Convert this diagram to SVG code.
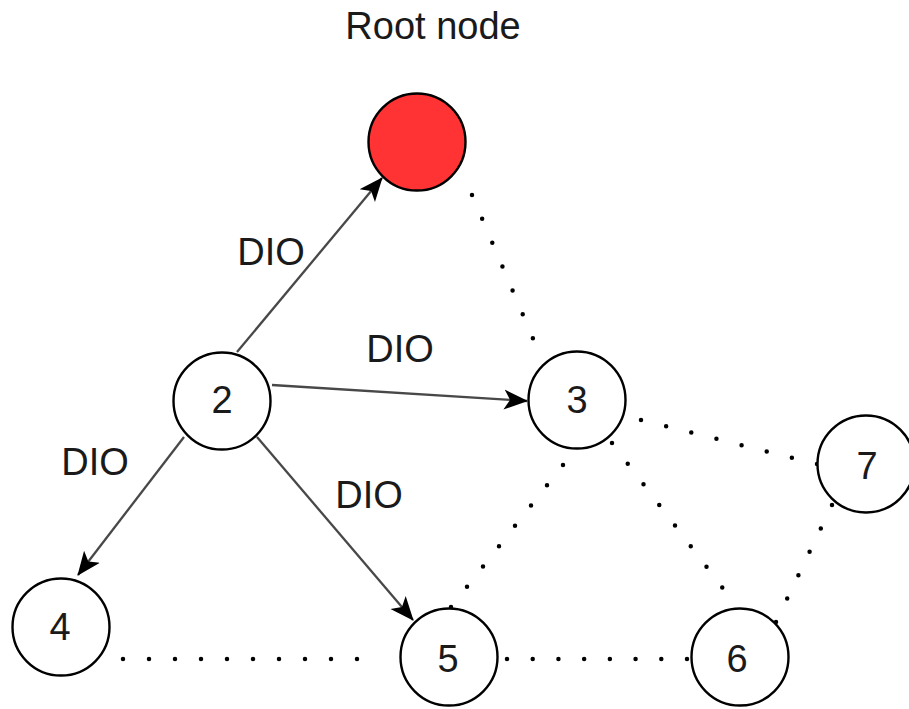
<svg xmlns="http://www.w3.org/2000/svg" width="909" height="709" viewBox="0 0 909 709">
  <style>
    .node { fill: #ffffff; stroke: #000000; stroke-width: 2.4; }
    .root { fill: #ff3333; }
    .lbl { font-family: "Liberation Sans", Arial, sans-serif; font-size: 38px; fill: #1a1a1a; text-anchor: middle; }
    .link { fill: none; stroke: #484848; stroke-width: 2.3; marker-end: url(#arrow); }
    .dots { fill: none; stroke: #000000; stroke-width: 4.5; stroke-linecap: round; stroke-dasharray: 0 1; }
  </style>
  <defs>
    <marker id="arrow" viewBox="0 0 24 22" refX="23" refY="11" markerWidth="24" markerHeight="22" markerUnits="userSpaceOnUse" orient="auto">
      <path d="M0,1 L24,11 L0,21 L6,11 Z" fill="#000000"/>
    </marker>
  </defs>
  <rect width="909" height="709" fill="#ffffff"/>

  <!-- connectors -->
  <g id="edges">
    <!-- DIO messages from node 2 -->
    <line class="link" x1="237" y1="352" x2="382" y2="178"/>
    <line class="link" x1="272" y1="385" x2="527" y2="401"/>
    <line class="link" x1="184" y1="437" x2="78" y2="575"/>
    <line class="link" x1="257" y1="437" x2="413" y2="620"/>
    <!-- neighbour links (dotted) -->
    <path class="dots" pathLength="7" d="M472,195 L543,362"/>
    <path class="dots" pathLength="7" d="M641,420 L817,464"/>
    <path class="dots" pathLength="8" d="M612,443 L738,608"/>
    <path class="dots" pathLength="7" d="M563,465 L451,607"/>
    <path class="dots" pathLength="5" d="M832,505 L776,622"/>
    <path class="dots" pathLength="10" d="M123,659 L383,659"/>
    <path class="dots" pathLength="7" d="M507,659 L687,659"/>
  </g>

  <!-- edge labels -->
  <g id="edge-labels">
    <text class="lbl" x="271" y="265">DIO</text>
    <text class="lbl" x="400" y="362">DIO</text>
    <text class="lbl" x="95" y="475">DIO</text>
    <text class="lbl" x="369" y="508">DIO</text>
  </g>

  <!-- nodes -->
  <g id="node-root">
    <text class="lbl" x="433" y="39" fill="#2a2a2a">Root node</text>
    <circle class="node root" cx="417" cy="142" r="48.5"/>
  </g>
  <g id="node-2">
    <circle class="node" cx="222" cy="401" r="48.5"/>
    <text class="lbl" x="222" y="413">2</text>
  </g>
  <g id="node-3">
    <circle class="node" cx="577" cy="400" r="48.5"/>
    <text class="lbl" x="577" y="413">3</text>
  </g>
  <g id="node-4">
    <circle class="node" cx="61" cy="627" r="48.5"/>
    <text class="lbl" x="60" y="640">4</text>
  </g>
  <g id="node-5">
    <circle class="node" cx="449" cy="657" r="48.5"/>
    <text class="lbl" x="448" y="672">5</text>
  </g>
  <g id="node-6">
    <circle class="node" cx="740" cy="657" r="48.5"/>
    <text class="lbl" x="737" y="672">6</text>
  </g>
  <g id="node-7">
    <circle class="node" cx="866" cy="464" r="48.5"/>
    <text class="lbl" x="867" y="479">7</text>
  </g>
</svg>
